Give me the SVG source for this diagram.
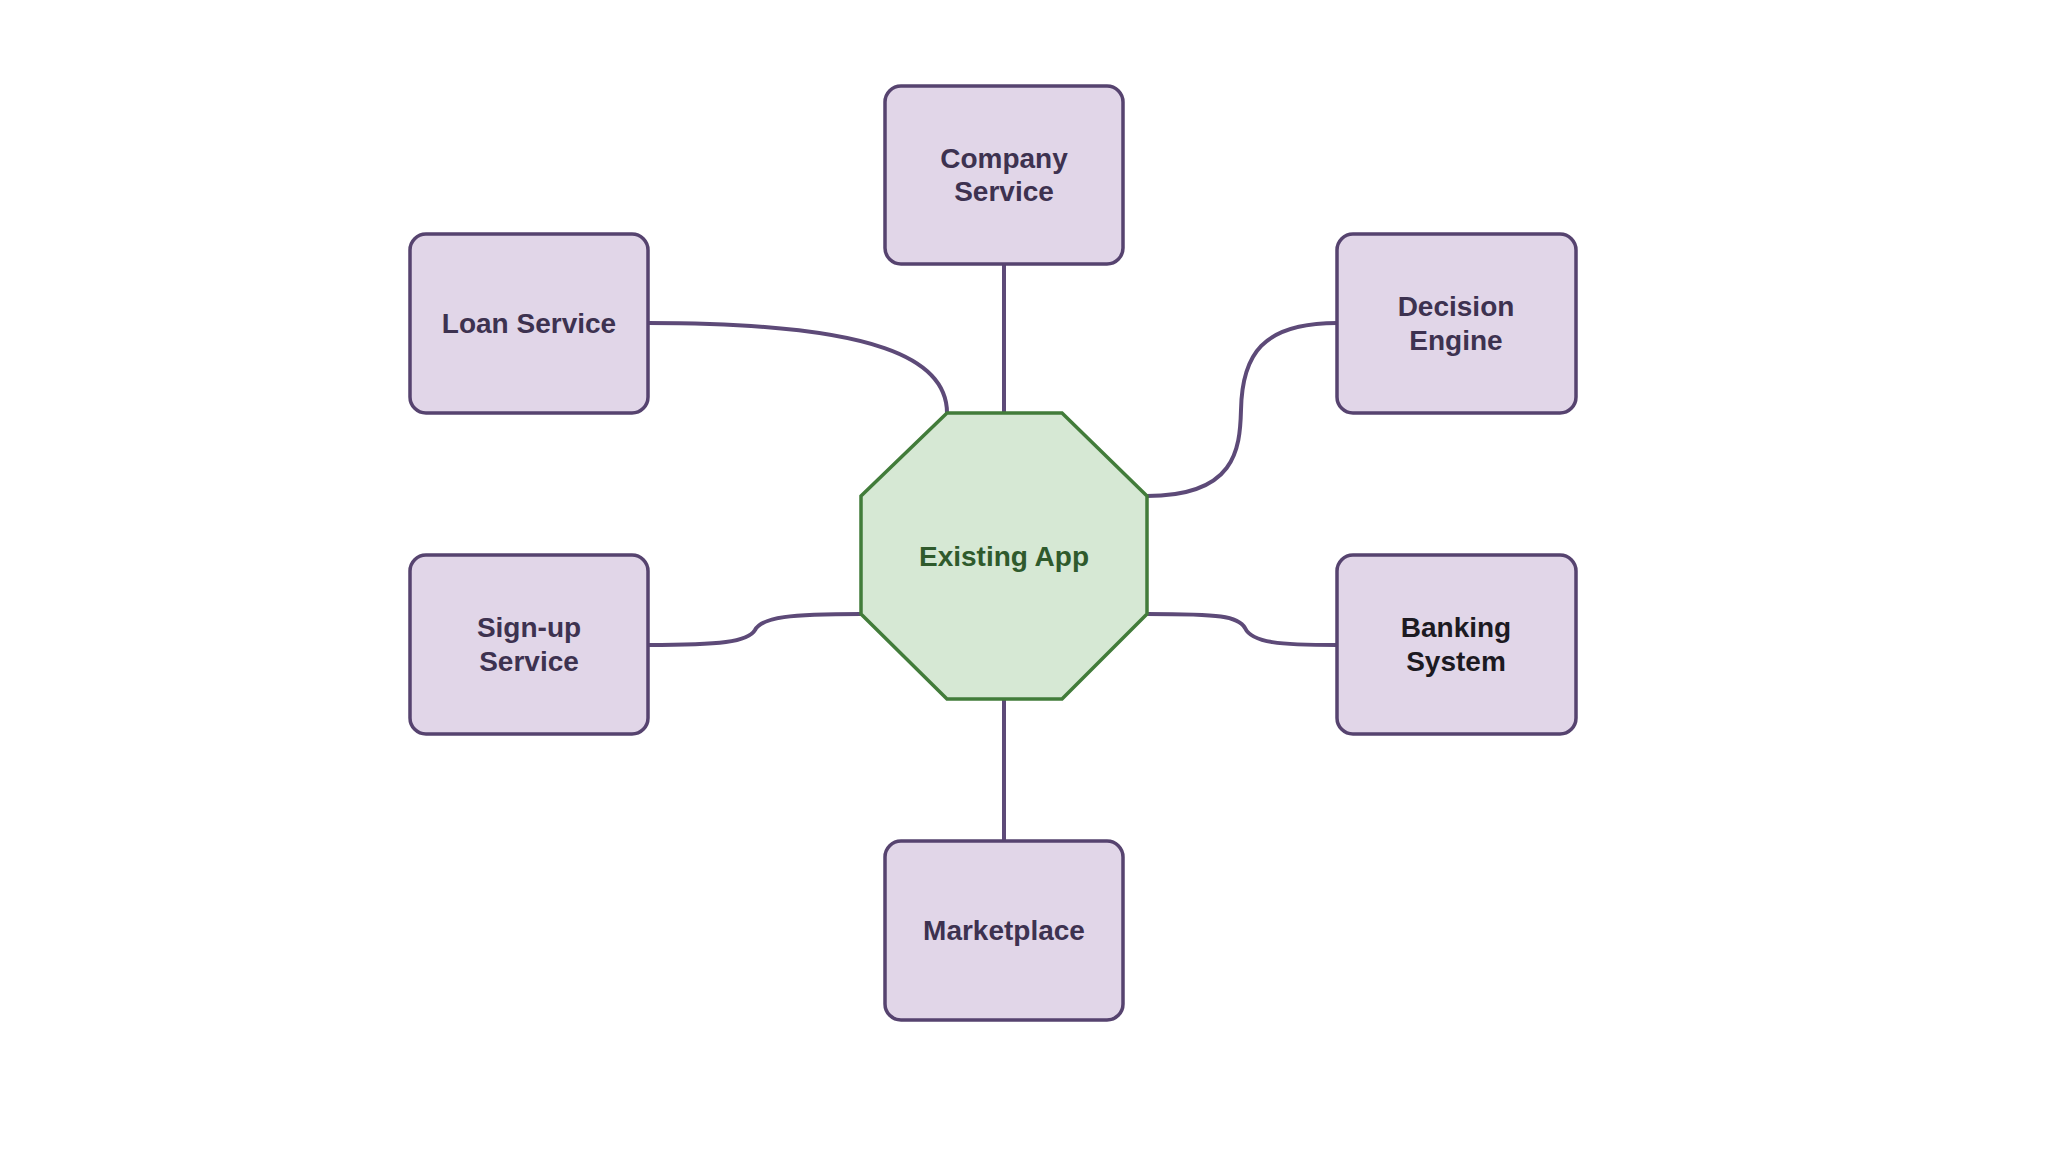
<svg xmlns="http://www.w3.org/2000/svg" width="2048" height="1152" viewBox="0 0 2048 1152">
<style>
.box{fill:#e1d6e8;stroke:#56436f;stroke-width:3.5}
.oct{fill:#d6e8d4;stroke:#427c3a;stroke-width:3.5}
.lbl{font-family:"Liberation Sans",Arial,sans-serif;font-weight:bold;font-size:28px;text-anchor:middle;fill:#3d3250}
.dark{fill:#1c1a22}
.green{fill:#2f5a2c}
.conn{fill:none;stroke:#5d4a78;stroke-width:4}
</style>
<rect width="2048" height="1152" fill="#ffffff"/>
<g id="connectors">
<path class="conn" d="M1004,264 L1004,413"/>
<path class="conn" d="M1004,699 L1004,841"/>
<path class="conn" d="M648,323 C880,323 947,360 947,413"/>
<path class="conn" d="M1147,496 C1235,496 1240,450 1241,410 C1242,355 1262,323 1337,323"/>
<path class="conn" d="M1147,614 C1220,614 1238,616 1245,628 C1252,643 1280,645 1337,645"/>
<path class="conn" d="M648,645 C720,645 748,642 755,630 C762,617 790,614 861,614"/>
</g>
<g id="existing-app">
<polygon class="oct" points="947,413 1062,413 1147,496 1147,614 1062,699 947,699 861,614 861,496"/>
<text class="lbl green" x="1004" y="566">Existing App</text>
</g>
<g id="company-service">
<rect class="box" x="885" y="86" width="238" height="178" rx="16"/>
<text class="lbl" x="1004" y="168">Company</text>
<text class="lbl" x="1004" y="201">Service</text>
</g>
<g id="loan-service">
<rect class="box" x="410" y="234" width="238" height="179" rx="16"/>
<text class="lbl" x="529" y="333">Loan Service</text>
</g>
<g id="decision-engine">
<rect class="box" x="1337" y="234" width="239" height="179" rx="16"/>
<text class="lbl" x="1456" y="316">Decision</text>
<text class="lbl" x="1456" y="350">Engine</text>
</g>
<g id="signup-service">
<rect class="box" x="410" y="555" width="238" height="179" rx="16"/>
<text class="lbl" x="529" y="637">Sign-up</text>
<text class="lbl" x="529" y="671">Service</text>
</g>
<g id="banking-system">
<rect class="box" x="1337" y="555" width="239" height="179" rx="16"/>
<text class="lbl dark" x="1456" y="637">Banking</text>
<text class="lbl dark" x="1456" y="671">System</text>
</g>
<g id="marketplace">
<rect class="box" x="885" y="841" width="238" height="179" rx="16"/>
<text class="lbl" x="1004" y="940">Marketplace</text>
</g>
</svg>
